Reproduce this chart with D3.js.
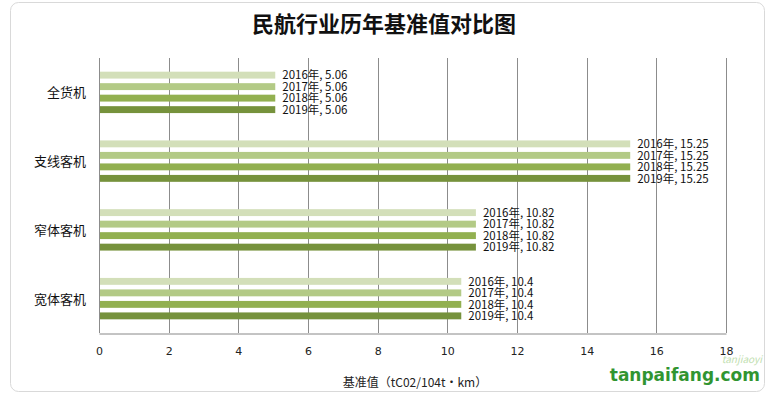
<!DOCTYPE html>
<html>
<head>
<meta charset="utf-8">
<script src="https://cdn.jsdelivr.net/npm/d3@7"></script>
<style>
  body { margin: 0; background: #fff; }
  text { font-family: "Noto Sans CJK SC", "Noto Sans", sans-serif; }
</style>
</head>
<body>
<div id="app"></div>
<script>
  // chart data
  const categories = ['全货机', '支线客机', '窄体客机', '宽体客机']
  const years = ['2016年', '2017年', '2018年', '2019年']
  const values2016 = [5.06, 15.25, 10.82, 10.4]
  const values2017 = [5.06, 15.25, 10.82, 10.4]
  const values2018 = [5.06, 15.25, 10.82, 10.4]
  const values2019 = [5.06, 15.25, 10.82, 10.4]
  const xTicks = [0, 2, 4, 6, 8, 10, 12, 14, 16, 18]
  const colors = ['#d3dfb9', '#b3ca86', '#92b050', '#76923c']

  const series = [values2016, values2017, values2018, values2019]

  const w = 768
  const h = 395
  const padLeft = 99
  const padRight = 726
  const padTop = 58
  const padBottom = 333

  const svg = d3.select('#app')
    .append('svg')
    .attr('width', w)
    .attr('height', h)

  // outer frame
  svg.append('rect')
    .attr('x', 10.5)
    .attr('y', 2.5)
    .attr('width', 754)
    .attr('height', 389)
    .attr('rx', 8)
    .attr('fill', '#fff')
    .attr('stroke', '#d9d9d9')

  // title
  svg.append('text')
    .attr('x', 384)
    .attr('y', 32)
    .attr('text-anchor', 'middle')
    .style('font-size', '22px')
    .style('font-weight', '600')
    .style('fill', '#111')
    .text('民航行业历年基准值对比图')

  const xScale = d3.scaleLinear()
    .domain([0, 18])
    .range([padLeft, padRight])

  const yScale = d3.scaleBand()
    .domain(categories)
    .range([padTop, padBottom])

  const inner = d3.scaleBand()
    .domain(years)
    .range([-20.7, 20.7])
    .paddingInner(0.4)

  // grid lines
  svg.append('g')
    .selectAll('line')
    .data(xTicks)
    .enter()
    .append('line')
    .attr('x1', d => Math.round(xScale(d)) + 0.5)
    .attr('x2', d => Math.round(xScale(d)) + 0.5)
    .attr('y1', padTop)
    .attr('y2', padBottom)
    .attr('stroke', '#8c8c8c')

  // x axis
  const xAxis = d3.axisBottom(xScale)
    .tickValues(xTicks)
    .tickSize(0)
    .tickPadding(14)
  const gx = svg.append('g')
    .attr('transform', 'translate(0,' + (padBottom + 0.5) + ')')
    .call(xAxis)
  gx.select('.domain').attr('stroke', '#888')
  gx.selectAll('text')
    .style('font-size', '11px')
    .style('fill', '#222')
    .style('font-family', '"DejaVu Sans", sans-serif')

  // axis title
  svg.append('text')
    .attr('x', 415)
    .attr('y', 387)
    .attr('text-anchor', 'middle')
    .style('font-size', '12px')
    .style('fill', '#222')
    .text('基准值（tC02/104t·km）')

  // category labels
  svg.append('g')
    .selectAll('text')
    .data(categories)
    .enter()
    .append('text')
    .attr('x', 86)
    .attr('y', d => yScale(d) + yScale.bandwidth() / 2 + 5)
    .attr('text-anchor', 'end')
    .style('font-size', '13px')
    .style('fill', '#111')
    .text(d => d)

  // bars and labels
  const groups = svg.append('g')
    .selectAll('g')
    .data(categories)
    .enter()
    .append('g')
    .attr('transform', d => 'translate(0,' + (yScale(d) + yScale.bandwidth() / 2) + ')')

  groups.each(function (cat, ci) {
    const g = d3.select(this)
    years.forEach(function (yr, si) {
      const v = series[si][ci]
      g.append('rect')
        .attr('x', xScale(0) + 1)
        .attr('y', inner(yr))
        .attr('width', xScale(v) - xScale(0) - 1)
        .attr('height', inner.bandwidth())
        .attr('fill', colors[si])
      g.append('text')
        .attr('x', xScale(v) + 7)
        .attr('y', inner(yr) + inner.bandwidth() / 2 + 4.2)
        .style('font-size', '11.5px')
        .style('fill', '#111')
        .text(yr + ', ' + v)
    })
  })

  // watermark
  svg.append('text')
    .attr('x', 760)
    .attr('y', 381)
    .attr('text-anchor', 'end')
    .style('font-size', '17px')
    .style('font-weight', 'bold')
    .style('font-family', '"DejaVu Sans", sans-serif')
    .style('fill', '#1a8a1a')
    .style('opacity', 0.9)
    .text('tanpaifang.com')
  svg.append('text')
    .attr('x', 762)
    .attr('y', 363)
    .attr('text-anchor', 'end')
    .style('font-size', '10px')
    .style('font-style', 'italic')
    .style('fill', '#bfe0b0')
    .text('tanjiaoyi')
</script>
</body>
</html>
